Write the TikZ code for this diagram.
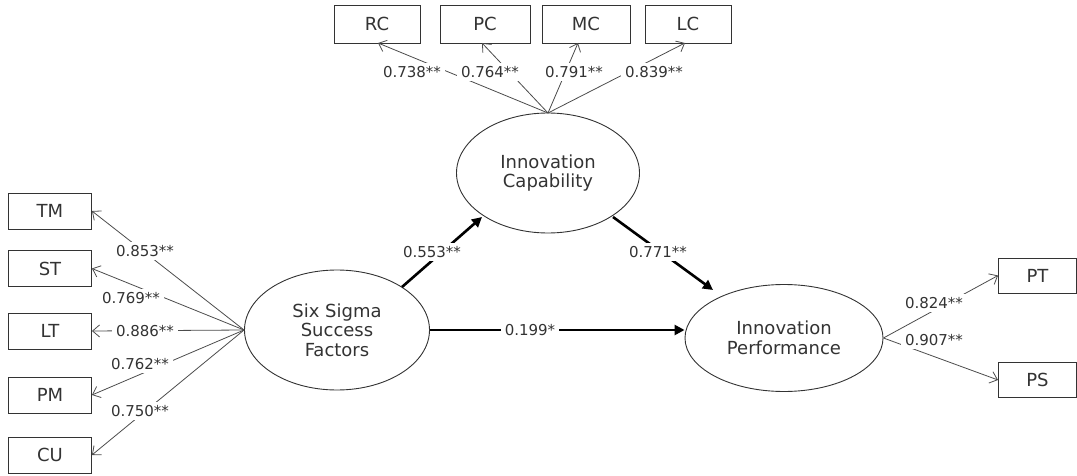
\documentclass[tikz,border=0pt]{standalone}
\usepackage{fontspec}
\setmainfont{DejaVu Sans}
\usetikzlibrary{arrows.meta,shapes.geometric}
\tikzset{
  box/.style={draw=black!80,line width=0.9pt,minimum width=83pt,minimum height=36pt,inner sep=0pt,font=\fontsize{18}{20}\selectfont,text=black!80},
  lat/.style={draw=black!80,line width=0.9pt,ellipse,inner sep=0pt,align=center,font=\fontsize{18}{19.5}\selectfont,text=black!80},
  lbl/.style={fill=white,inner xsep=4pt,inner ysep=3pt,font=\fontsize{15}{17}\selectfont,text=black!80},
  load/.style={draw=black!70,line width=0.8pt,-{Straight Barb[length=7pt,width=12pt,line width=0.8pt]}},
  spath/.style={draw=black,line width=2.6pt,-{Stealth[length=10pt,width=10pt,inset=0pt]}}
}
\begin{document}
\begin{tikzpicture}[x=1pt,y=-1pt]
\useasboundingbox (0,0) rectangle (1077,476);
% latent variables
\node[lat,minimum width=183pt,minimum height=120pt] (ic) at (548,173) {Innovation\\Capability};
\node[lat,minimum width=185pt,minimum height=120pt] (ssf) at (337,330) {Six Sigma\\Success\\Factors};
\node[lat,minimum width=198pt,minimum height=107pt] (ip) at (784,338) {Innovation\\Performance};
% indicator boxes
\node[box,minimum width=86pt,minimum height=38pt] (rc) at (377,24) {RC};
\node[box,minimum width=90pt,minimum height=38pt] (pc) at (485,24) {PC};
\node[box,minimum width=88pt,minimum height=38pt] (mc) at (586,24) {MC};
\node[box,minimum width=86pt,minimum height=38pt] (lc) at (688,24) {LC};
\node[box] (tm) at (50,211) {TM};
\node[box] (st) at (50,268.5) {ST};
\node[box] (lt) at (50,331) {LT};
\node[box] (pm) at (50,395) {PM};
\node[box] (cu) at (50,455) {CU};
\node[box,minimum width=78pt,minimum height=35pt] (pt) at (1037.5,275.5) {PT};
\node[box,minimum width=78pt,minimum height=35pt] (ps) at (1037.5,380) {PS};
% loadings
\coordinate (ictop) at (548,113);
\coordinate (rcin) at (378,43);
\coordinate (pcin) at (482,43);
\coordinate (mcin) at (578,43);
\coordinate (lcin) at (685,43);
\draw[load] (ictop) -- (rcin);
\draw[load] (ictop) -- (pcin);
\draw[load] (ictop) -- (mcin);
\draw[load] (ictop) -- (lcin);
\draw[load] (ssf.west) -- (tm.east);
\draw[load] (ssf.west) -- (st.east);
\draw[load] (ssf.west) -- (lt.east);
\draw[load] (ssf.west) -- (pm.east);
\draw[load] (ssf.west) -- (cu.east);
\draw[load] (ip.east) -- (pt.west);
\draw[load] (ip.east) -- (ps.west);
\node[lbl] (l1) at (412,72) {0.738**};
\node[lbl] (l2) at (490,72) {0.764**};
\node[lbl] (l3) at (574,72) {0.791**};
\node[lbl] (l4) at (654,72) {0.839**};
\node[lbl] (l5) at (145,251) {0.853**};
\node[lbl] (l6) at (131,298) {0.769**};
\node[lbl] (l7) at (145,331) {0.886**};
\node[lbl] (l8) at (140,364) {0.762**};
\node[lbl] (l9) at (140,411) {0.750**};
\node[lbl] (l10) at (934,303) {0.824**};
\node[lbl] (l11) at (934,340) {0.907**};
% structural paths
\coordinate (s1a) at (402,287);
\coordinate (s1b) at (482,217);
\coordinate (s2a) at (613,217);
\coordinate (s2b) at (713,290);
\draw[spath] (s1a) -- (s1b);
\draw[spath] (s2a) -- (s2b);
\draw[spath] (ssf.east) -- (ip.west |- ssf.east);
\node[lbl] (s1) at (432,252) {0.553**};
\node[lbl] (s2) at (658,252) {0.771**};
\node[lbl] (s3) at (530,330) {0.199*};
\end{tikzpicture}
\end{document}
